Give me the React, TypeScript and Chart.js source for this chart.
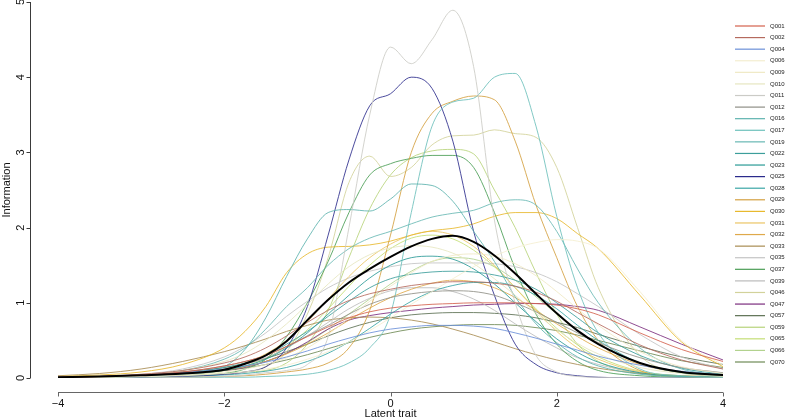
import React, { useEffect, useRef } from "react";
import { Chart, registerables } from "chart.js";

Chart.register(...registerables);

// latent trait grid
const X = [-4, -3.5, -3, -2.5, -2, -1.75, -1.5, -1.25, -1, -0.75, -0.5, -0.25, 0, 0.25, 0.5, 0.75, 1, 1.25, 1.5, 1.75, 2, 2.25, 2.5, 3, 3.5, 4];

const ITEMS = ["Q001", "Q002", "Q004", "Q006", "Q009", "Q010", "Q011", "Q012", "Q016", "Q017", "Q019", "Q022", "Q023", "Q025", "Q028", "Q029", "Q030", "Q031", "Q032", "Q033", "Q035", "Q037", "Q039", "Q046", "Q047", "Q057", "Q059", "Q065", "Q066", "Q070"];

const COLORS = ["#d4614e", "#b56a5e", "#6b8fd8", "#f4eed0", "#f0e9c4", "#e6e6c0", "#cbcbc6", "#8f8f86", "#5db3ae", "#6cc0bb", "#68b8b4", "#3c9e9b", "#2a9a96", "#2b2b8c", "#3aa6a6", "#d4a040", "#e8b92e", "#ebc564", "#dfa94a", "#a88c52", "#c4c4c4", "#4a9d55", "#bbbbbb", "#d2d29a", "#7b2d7e", "#5c7052", "#b7d37a", "#c4de74", "#b2d28e", "#6e8a55"];

const Q001 = [0.01, 0.02, 0.04, 0.08, 0.16, 0.22, 0.3, 0.42, 0.55, 0.68, 0.8, 0.88, 0.93, 0.96, 0.98, 0.99, 1.0, 1.0, 1.0, 0.99, 0.97, 0.92, 0.84, 0.6, 0.38, 0.22];
const Q002 = [0.01, 0.02, 0.05, 0.1, 0.2, 0.28, 0.4, 0.56, 0.74, 0.9, 1.03, 1.12, 1.18, 1.23, 1.26, 1.28, 1.28, 1.26, 1.22, 1.14, 1.02, 0.87, 0.72, 0.44, 0.24, 0.12];
const Q004 = [0.01, 0.02, 0.04, 0.07, 0.12, 0.16, 0.21, 0.28, 0.36, 0.45, 0.53, 0.6, 0.65, 0.68, 0.7, 0.7, 0.69, 0.66, 0.6, 0.53, 0.45, 0.37, 0.29, 0.17, 0.09, 0.04];
const Q006 = [0, 0.01, 0.02, 0.03, 0.06, 0.08, 0.12, 0.17, 0.25, 0.35, 0.48, 0.63, 0.8, 0.98, 1.15, 1.32, 1.48, 1.62, 1.73, 1.8, 1.84, 1.82, 1.72, 1.15, 0.5, 0.17];
const Q009 = [0, 0.01, 0.02, 0.04, 0.08, 0.12, 0.18, 0.27, 0.4, 0.58, 0.8, 1.02, 1.22, 1.4, 1.55, 1.63, 1.65, 1.62, 1.52, 1.36, 1.15, 0.92, 0.7, 0.35, 0.15, 0.06];
const Q010 = [0.01, 0.02, 0.04, 0.1, 0.22, 0.33, 0.5, 0.72, 0.98, 1.25, 1.48, 1.64, 1.73, 1.76, 1.74, 1.66, 1.52, 1.32, 1.1, 0.86, 0.64, 0.46, 0.32, 0.14, 0.06, 0.02];
const Q011 = [0, 0, 0, 0.01, 0.02, 0.04, 0.07, 0.1, 0.18, 0.55, 2.0, 3.5, 4.4, 4.18, 4.5, 4.89, 4.14, 2.1, 1.0, 0.3, 0.08, 0.02, 0.01, 0, 0, 0];
const Q012 = [0.01, 0.02, 0.04, 0.08, 0.16, 0.22, 0.3, 0.42, 0.56, 0.7, 0.85, 0.98, 1.07, 1.12, 1.15, 1.16, 1.15, 1.1, 1.0, 0.88, 0.74, 0.6, 0.47, 0.27, 0.14, 0.07];
const Q016 = [0.01, 0.01, 0.02, 0.05, 0.15, 0.38, 0.8, 1.35, 1.85, 2.2, 2.24, 2.22, 2.38, 2.58, 2.56, 2.35, 1.95, 1.55, 1.08, 0.72, 0.47, 0.28, 0.16, 0.05, 0.02, 0.01];
const Q017 = [0, 0, 0, 0, 0.01, 0.01, 0.02, 0.03, 0.05, 0.1, 0.2, 0.4, 0.85, 2.2, 3.35, 3.67, 3.72, 4.0, 4.05, 3.35, 2.15, 1.2, 0.6, 0.12, 0.03, 0.01];
const Q019 = [0.01, 0.02, 0.04, 0.1, 0.25, 0.4, 0.65, 0.95, 1.2, 1.5, 1.72, 1.86, 1.95, 2.05, 2.14, 2.19, 2.23, 2.33, 2.37, 2.3, 1.95, 1.45, 1.0, 0.4, 0.12, 0.04];
const Q022 = [0.01, 0.01, 0.03, 0.06, 0.14, 0.2, 0.3, 0.45, 0.62, 0.82, 1.02, 1.2, 1.32, 1.38, 1.41, 1.42, 1.41, 1.37, 1.3, 1.18, 1.0, 0.8, 0.6, 0.3, 0.13, 0.05];
const Q023 = [0, 0.01, 0.02, 0.04, 0.1, 0.16, 0.25, 0.4, 0.6, 0.85, 1.1, 1.33, 1.5, 1.6, 1.62, 1.58, 1.45, 1.25, 1.0, 0.75, 0.52, 0.34, 0.21, 0.07, 0.02, 0.01];
const Q025 = [0, 0, 0.01, 0.02, 0.05, 0.08, 0.15, 0.4, 0.95, 1.9, 2.9, 3.62, 3.78, 4.0, 3.85, 3.15, 1.95, 1.1, 0.45, 0.18, 0.07, 0.03, 0.01, 0, 0, 0];
const Q028 = [0, 0, 0.01, 0.02, 0.04, 0.06, 0.09, 0.14, 0.22, 0.33, 0.48, 0.66, 0.85, 1.02, 1.15, 1.23, 1.27, 1.27, 1.22, 1.1, 0.92, 0.7, 0.5, 0.2, 0.07, 0.02];
const Q029 = [0, 0, 0.01, 0.01, 0.02, 0.03, 0.05, 0.08, 0.12, 0.2, 0.4, 0.9, 1.9, 3.0, 3.52, 3.68, 3.75, 3.7, 3.15, 2.3, 1.6, 0.95, 0.5, 0.1, 0.02, 0.01];
const Q030 = [0.02, 0.04, 0.08, 0.18, 0.4, 0.62, 0.95, 1.4, 1.65, 1.74, 1.75, 1.77, 1.82, 1.9, 1.96, 1.99, 2.05, 2.15, 2.2, 2.2, 2.12, 1.92, 1.72, 1.1, 0.48, 0.15];
const Q031 = [0, 0.01, 0.02, 0.05, 0.12, 0.2, 0.32, 0.5, 0.75, 1.05, 1.35, 1.6, 1.78, 1.9, 1.95, 1.9, 1.75, 1.5, 1.2, 0.9, 0.62, 0.4, 0.25, 0.08, 0.02, 0.01];
const Q032 = [0, 0.01, 0.02, 0.04, 0.1, 0.15, 0.22, 0.32, 0.45, 0.6, 0.77, 0.93, 1.07, 1.18, 1.26, 1.3, 1.28, 1.2, 1.07, 0.9, 0.72, 0.55, 0.4, 0.18, 0.07, 0.02];
const Q033 = [0.03, 0.06, 0.12, 0.22, 0.35, 0.43, 0.52, 0.62, 0.7, 0.77, 0.8, 0.81, 0.8, 0.77, 0.72, 0.65, 0.57, 0.48, 0.39, 0.31, 0.24, 0.18, 0.13, 0.06, 0.03, 0.01];
const Q035 = [0.01, 0.02, 0.05, 0.12, 0.28, 0.42, 0.6, 0.82, 1.02, 1.2, 1.33, 1.42, 1.48, 1.52, 1.53, 1.53, 1.53, 1.52, 1.48, 1.4, 1.28, 1.12, 0.95, 0.58, 0.28, 0.12];
const Q037 = [0, 0.01, 0.02, 0.03, 0.06, 0.12, 0.25, 0.55, 1.0, 1.55, 2.2, 2.7, 2.85, 2.92, 2.96, 2.96, 2.8, 2.2, 1.45, 0.85, 0.45, 0.22, 0.1, 0.03, 0.01, 0];
const Q039 = [0, 0.01, 0.02, 0.05, 0.12, 0.18, 0.27, 0.4, 0.56, 0.74, 0.92, 1.06, 1.16, 1.2, 1.2, 1.15, 1.05, 0.9, 0.72, 0.55, 0.4, 0.27, 0.18, 0.07, 0.02, 0.01];
const Q046 = [0, 0.01, 0.01, 0.02, 0.05, 0.08, 0.15, 0.35, 0.85, 1.6, 2.6, 2.95, 2.68, 2.8, 3.1, 3.22, 3.23, 3.3, 3.25, 3.2, 2.8, 2.0, 1.2, 0.3, 0.07, 0.02];
const Q047 = [0.01, 0.02, 0.04, 0.07, 0.1, 0.14, 0.22, 0.33, 0.48, 0.65, 0.77, 0.83, 0.87, 0.9, 0.93, 0.95, 0.97, 0.98, 0.99, 0.99, 0.98, 0.95, 0.9, 0.68, 0.45, 0.24];
const Q057 = [0.01, 0.02, 0.04, 0.08, 0.14, 0.19, 0.26, 0.35, 0.45, 0.56, 0.66, 0.74, 0.8, 0.84, 0.86, 0.87, 0.87, 0.86, 0.84, 0.8, 0.74, 0.67, 0.58, 0.42, 0.28, 0.18];
const Q059 = [0, 0.01, 0.02, 0.03, 0.06, 0.08, 0.1, 0.2, 0.45, 0.9, 1.6, 2.25, 2.7, 2.93, 3.02, 3.04, 2.98, 2.5, 2.0, 1.4, 0.85, 0.45, 0.22, 0.06, 0.02, 0.01];
const Q065 = [0, 0.01, 0.02, 0.04, 0.1, 0.16, 0.26, 0.42, 0.64, 0.92, 1.22, 1.5, 1.72, 1.86, 1.9, 1.85, 1.7, 1.48, 1.2, 0.92, 0.66, 0.44, 0.28, 0.09, 0.03, 0.01];
const Q066 = [0, 0.01, 0.02, 0.05, 0.1, 0.15, 0.22, 0.33, 0.47, 0.65, 0.85, 1.05, 1.25, 1.42, 1.55, 1.6, 1.58, 1.48, 1.3, 1.08, 0.85, 0.63, 0.45, 0.2, 0.08, 0.03];
const Q070 = [0.01, 0.02, 0.03, 0.06, 0.1, 0.13, 0.18, 0.24, 0.31, 0.39, 0.47, 0.54, 0.6, 0.65, 0.68, 0.7, 0.71, 0.71, 0.7, 0.67, 0.63, 0.57, 0.5, 0.36, 0.23, 0.14];

const SERIES = [Q001, Q002, Q004, Q006, Q009, Q010, Q011, Q012, Q016, Q017, Q019, Q022, Q023, Q025, Q028, Q029, Q030, Q031, Q032, Q033, Q035, Q037, Q039, Q046, Q047, Q057, Q059, Q065, Q066, Q070];

// average information (black curve)
const MEAN = [0.01, 0.02, 0.035, 0.06, 0.11, 0.19, 0.3, 0.49, 0.77, 1.04, 1.27, 1.45, 1.61, 1.75, 1.85, 1.89, 1.81, 1.63, 1.39, 1.12, 0.86, 0.63, 0.45, 0.2, 0.08, 0.04];

const X_TICKS = [-4, -2, 0, 2, 4];
const Y_TICKS = [0, 1, 2, 3, 4, 5];
const X_TITLE = "Latent trait";
const Y_TITLE = "Information";

const FONT = '"Liberation Sans", Arial, Helvetica, sans-serif';

const fmt = (v: number) => (v < 0 ? "\u2212" + Math.abs(v) : String(v));

const withAlpha = (hex: string, a: number) => {
  const n = parseInt(hex.slice(1), 16);
  return `rgba(${(n >> 16) & 255}, ${(n >> 8) & 255}, ${n & 255}, ${a})`;
};

const rAxesPlugin = {
  id: "rAxes",
  afterDraw(chart: any) {
    const ctx = chart.ctx as CanvasRenderingContext2D;
    const xs = chart.scales.x;
    const ys = chart.scales.y;
    ctx.save();
    ctx.strokeStyle = "#3a3a3a";
    ctx.fillStyle = "#111";
    ctx.lineWidth = 1;

    // y axis
    const ax = 30.5;
    ctx.beginPath();
    ctx.moveTo(ax, ys.getPixelForValue(Y_TICKS[0]));
    ctx.lineTo(ax, ys.getPixelForValue(Y_TICKS[Y_TICKS.length - 1]));
    Y_TICKS.forEach((v) => {
      const y = Math.round(ys.getPixelForValue(v)) + 0.5;
      ctx.moveTo(ax, y);
      ctx.lineTo(ax - 4, y);
    });
    ctx.stroke();
    ctx.font = `11px ${FONT}`;
    ctx.textAlign = "center";
    ctx.textBaseline = "middle";
    Y_TICKS.forEach((v) => {
      const y = ys.getPixelForValue(v);
      ctx.save();
      ctx.translate(21, y);
      ctx.rotate(-Math.PI / 2);
      ctx.fillText(fmt(v), 0, 0);
      ctx.restore();
    });
    ctx.save();
    ctx.translate(7, (ys.top + ys.bottom) / 2);
    ctx.rotate(-Math.PI / 2);
    ctx.fillText(Y_TITLE, 0, 0);
    ctx.restore();

    // x axis
    const ay = 392.5;
    ctx.strokeStyle = "#666";
    ctx.beginPath();
    ctx.moveTo(xs.getPixelForValue(X_TICKS[0]), ay);
    ctx.lineTo(xs.getPixelForValue(X_TICKS[X_TICKS.length - 1]), ay);
    X_TICKS.forEach((v) => {
      const x = Math.round(xs.getPixelForValue(v)) + 0.5;
      ctx.moveTo(x, ay);
      ctx.lineTo(x, ay + 4);
    });
    ctx.stroke();
    X_TICKS.forEach((v) => {
      ctx.fillText(fmt(v), xs.getPixelForValue(v), 404);
    });
    ctx.fillText(X_TITLE, (xs.left + xs.right) / 2, 414);

    // legend
    ctx.font = `6px ${FONT}`;
    ctx.textAlign = "left";
    ctx.lineWidth = 1.2;
    const top = 26;
    const step = (362 - 26) / (ITEMS.length - 1);
    ITEMS.forEach((name, i) => {
      const y = top + i * step;
      ctx.strokeStyle = COLORS[i];
      ctx.beginPath();
      ctx.moveTo(735, y);
      ctx.lineTo(765, y);
      ctx.stroke();
      ctx.fillStyle = "#222";
      ctx.fillText(name, 770, y);
    });
    ctx.restore();
  },
};

export default function App() {
  const ref = useRef<HTMLCanvasElement | null>(null);

  useEffect(() => {
    document.body.style.margin = "0";
    const canvas = ref.current;
    if (!canvas) return;
    const datasets: any[] = SERIES.map((vals, i) => ({
      label: ITEMS[i],
      data: X.map((x, j) => ({ x, y: vals[j] })),
      borderColor: withAlpha(COLORS[i], 0.85),
      borderWidth: 1,
      pointRadius: 0,
      fill: false,
      cubicInterpolationMode: "monotone",
      order: 1,
    }));
    datasets.push({
      label: "Mean",
      data: X.map((x, j) => ({ x, y: MEAN[j] })),
      borderColor: "#000000",
      borderWidth: 2,
      pointRadius: 0,
      fill: false,
      cubicInterpolationMode: "monotone",
      order: -1,
    });

    const chart = new Chart(canvas, {
      type: "line",
      data: { datasets },
      options: {
        animation: false,
        responsive: false,
        devicePixelRatio: 1,
        layout: { padding: { left: 58, right: 62, top: 2, bottom: 42 } },
        scales: {
          x: { type: "linear", min: -4, max: 4, display: false },
          y: { type: "linear", min: 0, max: 5, display: false },
        },
        plugins: { legend: { display: false }, tooltip: { enabled: false } },
        elements: { line: { borderCapStyle: "round" } },
      },
      plugins: [rAxesPlugin],
    } as any);
    return () => chart.destroy();
  }, []);

  return (
    <div style={{ width: 785, height: 420 }}>
      <canvas ref={ref} width={785} height={420} style={{ display: "block", width: 785, height: 420 }} />
    </div>
  );
}
